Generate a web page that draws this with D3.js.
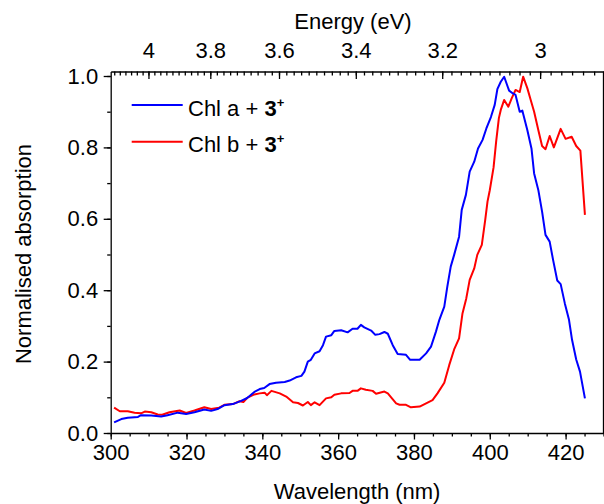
<!DOCTYPE html>
<html lang="en">
<head>
    <meta charset="UTF-8">
    <script src="https://d3js.org/d3.v7.min.js"></script>
    <title>index</title>
    <style>
        body { margin: 0; background: #fff; }
        text { font-family: "Liberation Sans", Arial, sans-serif; }
        .axis text { font-size: 22px; fill: #000; }
        .axis path, .axis line { stroke: #000; stroke-width: 1.3; }
        .curve { fill: none; stroke-width: 2; stroke-linejoin: round; }
    </style>
</head>
<body>
    <div id="chart"></div>

    <script>
        // Chl a + 3+ (blue)
        var wlA = [300.9, 302.8, 304.5, 307.2, 308.0, 310.7, 313.3, 315.0, 317.7, 319.9,
                   322.1, 324.7, 326.5, 328.2, 330.0, 332.2, 334.4, 336.0, 337.9, 339.3,
                   340.5, 341.9, 343.6, 345.9, 347.2, 348.9, 350.3, 351.1, 352.0, 352.8,
                   353.8, 355.1, 356.0, 356.8, 358.2, 359.0, 360.8, 362.5, 363.8, 365.1,
                   366.0, 366.9, 368.7, 369.8, 370.9, 372.2, 373.1, 374.4, 375.7, 377.9,
                   379.0, 381.5, 383.2, 384.5, 385.8, 386.7, 388.0, 388.8, 389.7, 390.6,
                   391.9, 392.6, 393.7, 394.7, 395.9, 396.9, 398.1, 399.1, 400.3, 401.3,
                   402.0, 402.9, 403.8, 405.1, 406.1, 406.8, 407.9, 408.6, 409.9, 411.0,
                   411.7, 412.8, 413.8, 414.7, 415.8, 416.7, 417.8, 418.7, 419.8, 420.9,
                   421.7, 422.8, 423.8, 425.1];
        var absA = [0.030, 0.039, 0.043, 0.045, 0.050, 0.049, 0.046, 0.050, 0.057, 0.053,
                    0.058, 0.066, 0.062, 0.067, 0.078, 0.081, 0.090, 0.098, 0.115, 0.123,
                    0.126, 0.137, 0.141, 0.143, 0.147, 0.156, 0.160, 0.172, 0.200, 0.205,
                    0.223, 0.229, 0.246, 0.270, 0.274, 0.286, 0.288, 0.282, 0.292, 0.292,
                    0.303, 0.296, 0.287, 0.275, 0.277, 0.283, 0.278, 0.246, 0.221, 0.219,
                    0.205, 0.205, 0.223, 0.242, 0.284, 0.317, 0.354, 0.410, 0.466, 0.499,
                    0.550, 0.625, 0.667, 0.732, 0.760, 0.797, 0.821, 0.853, 0.885, 0.919,
                    0.963, 0.984, 0.998, 0.959, 0.951, 0.947, 0.900, 0.903, 0.849, 0.797,
                    0.727, 0.681, 0.620, 0.555, 0.536, 0.485, 0.427, 0.417, 0.363, 0.317,
                    0.261, 0.206, 0.172, 0.097];

        // Chl b + 3+ (red)
        var wlB = [300.9, 302.4, 304.5, 306.3, 308.0, 309.0, 310.7, 312.4, 313.6, 315.5,
                   318.2, 319.9, 322.1, 324.7, 326.5, 328.6, 330.0, 332.2, 334.0, 335.0,
                   336.1, 337.9, 339.3, 340.6, 341.2, 342.4, 344.6, 346.3, 348.1, 349.4,
                   350.7, 352.0, 352.8, 353.8, 355.1, 356.8, 358.2, 359.0, 360.8, 363.0,
                   363.8, 365.1, 366.0, 367.3, 369.1, 370.0, 372.2, 373.1, 375.3, 376.2,
                   377.9, 379.2, 381.5, 383.2, 384.9, 386.2, 388.0, 389.3, 390.6, 391.9,
                   392.8, 393.8, 394.7, 395.9, 396.7, 397.9, 398.8, 399.4, 400.0, 401.0,
                   401.7, 402.4, 402.9, 403.8, 404.9, 405.8, 406.8, 407.9, 408.8, 409.9,
                   410.8, 411.7, 412.8, 413.8, 414.7, 415.8, 416.9, 418.7, 420.0, 421.6,
                   422.8, 423.9, 425.1];
        var absB = [0.071, 0.061, 0.061, 0.057, 0.055, 0.060, 0.058, 0.052, 0.051, 0.058,
                    0.063, 0.056, 0.063, 0.072, 0.067, 0.071, 0.079, 0.081, 0.089, 0.087,
                    0.099, 0.108, 0.111, 0.113, 0.106, 0.118, 0.111, 0.102, 0.086, 0.084,
                    0.077, 0.087, 0.078, 0.086, 0.078, 0.097, 0.100, 0.107, 0.111, 0.112,
                    0.118, 0.118, 0.125, 0.121, 0.118, 0.110, 0.116, 0.111, 0.083, 0.079,
                    0.079, 0.072, 0.074, 0.083, 0.092, 0.111, 0.141, 0.190, 0.234, 0.265,
                    0.335, 0.377, 0.429, 0.461, 0.499, 0.527, 0.597, 0.648, 0.680, 0.744,
                    0.818, 0.882, 0.905, 0.933, 0.914, 0.938, 0.961, 0.955, 0.998, 0.966,
                    0.933, 0.900, 0.849, 0.804, 0.795, 0.832, 0.800, 0.852, 0.824, 0.830,
                    0.804, 0.791, 0.611];

        var wlTicks = [300, 320, 340, 360, 380, 400, 420];
        var absTicks = [0.0, 0.2, 0.4, 0.6, 0.8, 1.0];
        var energyTicks = [4, 3.8, 3.6, 3.4, 3.2, 3];
        var energyLabels = ['4', '3.8', '3.6', '3.4', '3.2', '3'];
        var hc = 1239.84;

        var width = 604, height = 504;
        var plotLeft = 110.7, plotRight = 603.5, plotTop = 71.5, plotBottom = 433;

        var x = d3.scaleLinear().domain([300, 430]).range([plotLeft, plotRight]);
        var y = d3.scaleLinear().domain([0, 1]).range([plotBottom, 76]);

        const svg = d3.select('#chart')
                        .append('svg')
                            .attr('width', width)
                            .attr('height', height);

        // bottom axis
        svg.append('g')
            .attr('class', 'axis')
            .attr('transform', 'translate(0,' + plotBottom + ')')
            .call(d3.axisBottom(x).tickValues(d3.range(300, 431, 5)).tickFormat('').tickSize(3.5).tickSizeOuter(0));
        svg.append('g')
            .attr('class', 'axis')
            .attr('transform', 'translate(0,' + plotBottom + ')')
            .call(d3.axisBottom(x).tickValues(wlTicks).tickFormat(d3.format('d')).tickSize(6.5).tickPadding(5).tickSizeOuter(0))
            .select('.domain').remove();

        // left axis
        var yMax = y.invert(plotTop);
        svg.append('g')
            .attr('class', 'axis')
            .attr('transform', 'translate(' + plotLeft + ',0)')
            .call(d3.axisLeft(y.copy().domain([0, yMax]).range([plotBottom, plotTop])).tickValues(d3.range(0, 1.01, 0.1)).tickFormat('').tickSize(3.5).tickSizeOuter(0));
        svg.append('g')
            .attr('class', 'axis')
            .attr('transform', 'translate(' + plotLeft + ',0)')
            .call(d3.axisLeft(y).tickValues(absTicks).tickFormat(d3.format('.1f')).tickSize(7).tickPadding(5.5))
            .select('.domain').remove();

        // top axis: energy, inward ticks
        var minorE = d3.range(2.90, 4.13, 0.02);
        svg.append('g')
            .attr('class', 'axis')
            .attr('transform', 'translate(0,' + plotTop + ')')
            .call(d3.axisTop(x).tickValues(minorE.map(function(e) { return hc / e; })).tickFormat('').tickSize(-4).tickSizeOuter(0));
        svg.append('g')
            .attr('class', 'axis')
            .attr('transform', 'translate(0,' + plotTop + ')')
            .call(d3.axisTop(x).tickValues(energyTicks.map(function(e) { return hc / e; }))
                    .tickFormat(function(d, i) { return energyLabels[i]; })
                    .tickSize(-7.5).tickPadding(14))
            .select('.domain').remove();

        // right frame
        svg.append('line')
            .attr('x1', plotRight).attr('x2', plotRight)
            .attr('y1', plotTop).attr('y2', plotBottom)
            .attr('stroke', '#000').attr('stroke-width', 1.3);

        // curves
        var line = d3.line()
                    .x(function(d) { return x(d[0]); })
                    .y(function(d) { return y(d[1]); });

        svg.append('path')
            .attr('class', 'curve')
            .attr('stroke', '#ff0000')
            .attr('d', line(d3.zip(wlB, absB)));
        svg.append('path')
            .attr('class', 'curve')
            .attr('stroke', '#0000ff')
            .attr('d', line(d3.zip(wlA, absA)));

        // axis titles
        svg.append('text')
            .attr('x', 353).attr('y', 28.5)
            .attr('text-anchor', 'middle')
            .style('font-size', '22px')
            .text('Energy (eV)');
        svg.append('text')
            .attr('x', (plotLeft + plotRight) / 2).attr('y', 499)
            .attr('text-anchor', 'middle')
            .style('font-size', '22px')
            .text('Wavelength (nm)');
        svg.append('text')
            .attr('transform', 'translate(31,' + 254 + ') rotate(-90)')
            .attr('text-anchor', 'middle')
            .style('font-size', '22px')
            .text('Normalised absorption');

        // legend
        var legendNames = ['Chl a + ', 'Chl b + '];
        var legendColors = ['#0000ff', '#ff0000'];
        var legend = svg.selectAll('.legend')
                        .data(legendNames)
                        .enter()
                        .append('g')
                            .attr('class', 'legend')
                            .attr('transform', function(d, i) { return 'translate(0,' + (105 + i * 36.7) + ')'; });

        legend.append('line')
            .attr('x1', 131.7).attr('x2', 182.7)
            .attr('stroke', function(d, i) { return legendColors[i]; })
            .attr('stroke-width', 2);

        var lt = legend.append('text')
            .attr('x', 188)
            .attr('y', 10.5)
            .style('font-size', '22px');
        lt.append('tspan').text(function(d) { return d; });
        lt.append('tspan').style('font-weight', 'bold').text('3');
        lt.append('tspan').style('font-weight', 'bold').style('font-size', '13px').attr('dy', -9).text('+');
    </script>
</body>
</html>
